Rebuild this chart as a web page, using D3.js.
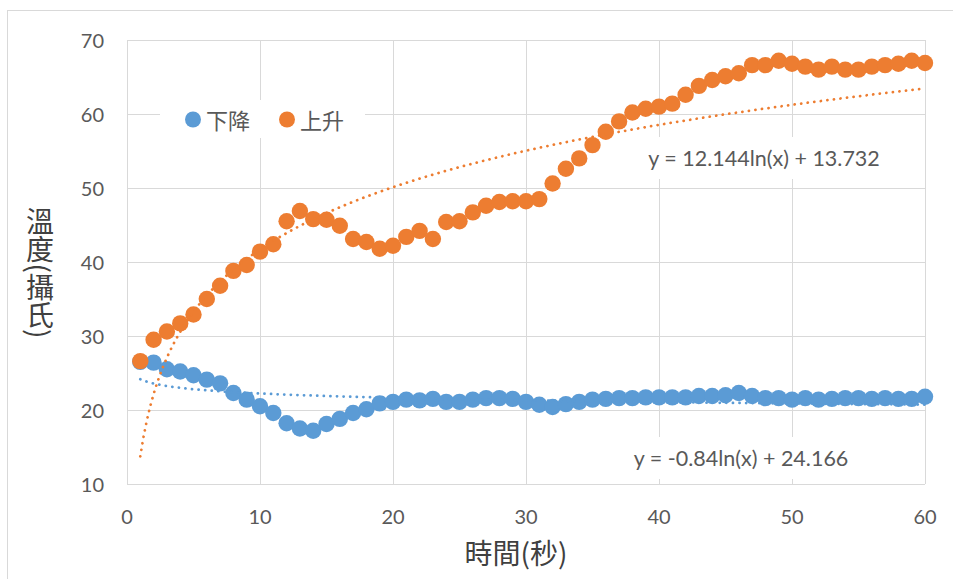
<!DOCTYPE html>
<html>
<head>
<meta charset="utf-8">
<script src="https://cdn.jsdelivr.net/npm/d3@7"></script>
<style>
  html, body { margin: 0; padding: 0; background: #fff; }
  svg { display: block; }
  .tick-label { font-family: Lato, "Open Sans", sans-serif; font-size: 20px; fill: #595959; }
  .eq-label { font-family: Lato, "Open Sans", sans-serif; font-size: 21.5px; fill: #595959; }
  .cjk { font-family: "Noto Sans CJK TC", "Noto Sans CJK SC", sans-serif; }
</style>
</head>
<body>
<svg id="chart" width="953" height="579"></svg>
<script>
// Seconds 1..60
const seconds = d3.range(1, 61);

// 下降 series (temperature, °C)
const fallingTemps = [
  26.5, 26.4, 25.5, 25.2, 24.7, 24.1, 23.6, 22.3, 21.4, 20.5,
  19.6, 18.2, 17.5, 17.2, 18.1, 18.8, 19.6, 20.1, 20.9, 21.1,
  21.4, 21.3, 21.5, 21.1, 21.1, 21.4, 21.6, 21.6, 21.5, 21.1,
  20.7, 20.4, 20.8, 21.1, 21.4, 21.5, 21.6, 21.6, 21.7, 21.7,
  21.7, 21.7, 21.9, 21.9, 22.0, 22.3, 21.9, 21.6, 21.6, 21.4,
  21.6, 21.4, 21.5, 21.6, 21.6, 21.5, 21.6, 21.5, 21.5, 21.8
];

// 上升 series (temperature, °C)
const risingTemps = [
  26.6, 29.5, 30.6, 31.7, 32.9, 35.0, 36.8, 38.8, 39.6, 41.4,
  42.4, 45.5, 46.9, 45.8, 45.7, 44.9, 43.1, 42.7, 41.8, 42.2,
  43.4, 44.2, 43.1, 45.4, 45.5, 46.7, 47.6, 48.1, 48.2, 48.2,
  48.5, 50.6, 52.6, 54.0, 55.8, 57.6, 59.0, 60.2, 60.7, 61.0,
  61.4, 62.6, 63.8, 64.6, 65.1, 65.5, 66.6, 66.6, 67.2, 66.8,
  66.4, 66.0, 66.4, 66.0, 66.0, 66.4, 66.6, 66.8, 67.2, 66.9
];

// Logarithmic trendline coefficients: y = a*ln(x) + b
const fallingTrend = [-0.84, 24.166];
const risingTrend = [12.144, 13.732];

const seriesNames = ["下降", "上升"];
const xTicks = [0, 10, 20, 30, 40, 50, 60];
const yTicks = [10, 20, 30, 40, 50, 60, 70];
const xTitle = "時間(秒)";
const yTitle = "溫度(攝氏)";

const colors = ["#5B9BD5", "#ED7D31"];

const svg = d3.select("#chart");

// Chart area border
svg.append("rect")
  .attr("x", 7.5).attr("y", 10.5)
  .attr("width", 1000).attr("height", 700)
  .attr("fill", "#fff").attr("stroke", "#d9d9d9").attr("stroke-width", 1);

const plot = { left: 127, right: 925, top: 40, bottom: 484 };
const x = d3.scaleLinear().domain([0, 60]).range([plot.left, plot.right]);
const y = d3.scaleLinear().domain([10, 70]).range([plot.bottom, plot.top]);

// Gridlines
const grid = svg.append("g").attr("stroke", "#d9d9d9").attr("stroke-width", 1);
grid.selectAll("line.h").data(yTicks).join("line")
  .attr("x1", plot.left).attr("x2", plot.right)
  .attr("y1", d => Math.round(y(d)) + 0.5).attr("y2", d => Math.round(y(d)) + 0.5);
grid.selectAll("line.v").data(xTicks).join("line")
  .attr("y1", plot.top).attr("y2", plot.bottom)
  .attr("x1", d => Math.round(x(d)) + 0.5).attr("x2", d => Math.round(x(d)) + 0.5);

// Axis tick labels
svg.append("g").selectAll("text").data(yTicks).join("text")
  .attr("class", "tick-label")
  .attr("x", 104).attr("y", d => y(d))
  .attr("text-anchor", "end").attr("dominant-baseline", "central")
  .text(d => d);
svg.append("g").selectAll("text").data(xTicks).join("text")
  .attr("class", "tick-label")
  .attr("x", d => x(d)).attr("y", 516)
  .attr("text-anchor", "middle").attr("dominant-baseline", "central")
  .text(d => d);

// Axis titles
svg.append("text").attr("class", "cjk")
  .attr("x", 516).attr("y", 552)
  .attr("text-anchor", "middle").attr("dominant-baseline", "central")
  .attr("font-size", 28).attr("fill", "#404040")
  .text(xTitle);
svg.append("text").attr("class", "cjk")
  .attr("x", 40).attr("y", 273)
  .attr("text-anchor", "middle")
  .attr("font-size", 28).attr("fill", "#404040")
  .style("writing-mode", "vertical-rl")
  .style("text-orientation", "mixed")
  .text(yTitle);

// Markers
const series = [fallingTemps, risingTemps];
series.forEach((vals, i) => {
  svg.append("g").selectAll("circle").data(vals).join("circle")
    .attr("cx", (d, j) => x(seconds[j]))
    .attr("cy", d => y(d))
    .attr("r", 8.2)
    .attr("fill", colors[i]);
});

// Trendlines (round-dot)
const trendX = d3.range(1, 60.001, 0.25);
[fallingTrend, risingTrend].forEach((c, i) => {
  const line = d3.line()
    .x(t => x(t))
    .y(t => y(c[0] * Math.log(t) + c[1]));
  svg.append("path")
    .attr("d", line(trendX))
    .attr("fill", "none")
    .attr("stroke", colors[i])
    .attr("stroke-width", 2.75)
    .attr("stroke-linecap", "round")
    .attr("stroke-dasharray", "0.1 6.5");
});

// Trendline equation labels
function fmtEq(c) {
  return "y = " + c[0] + "ln(x) + " + c[1];
}
const eqLabels = [
  { coef: fallingTrend, cx: 741, cy: 458 },
  { coef: risingTrend, cx: 764, cy: 158 }
];
eqLabels.forEach(l => {
  const g = svg.append("g");
  const t = g.append("text").attr("class", "eq-label")
    .attr("x", l.cx).attr("y", l.cy)
    .attr("text-anchor", "middle").attr("dominant-baseline", "central")
    .text(fmtEq(l.coef));
  const b = t.node().getBBox();
  g.insert("rect", "text")
    .attr("x", b.x - 8).attr("y", l.cy - 21)
    .attr("width", b.width + 16).attr("height", 42)
    .attr("fill", "#fff");
});

// Legend
const legend = svg.append("g");
legend.append("rect").attr("x", 160).attr("y", 100).attr("width", 205).attr("height", 38).attr("fill", "#fff");
const legendItems = [{ cx: 193, tx: 206 }, { cx: 287, tx: 300 }];
legendItems.forEach((p, i) => {
  legend.append("circle").attr("cx", p.cx).attr("cy", 119.5).attr("r", 8).attr("fill", colors[i]);
  legend.append("text").attr("class", "cjk")
    .attr("x", p.tx).attr("y", 119)
    .attr("dominant-baseline", "central")
    .attr("font-size", 22).attr("fill", "#595959")
    .text(seriesNames[i]);
});
</script>
</body>
</html>
